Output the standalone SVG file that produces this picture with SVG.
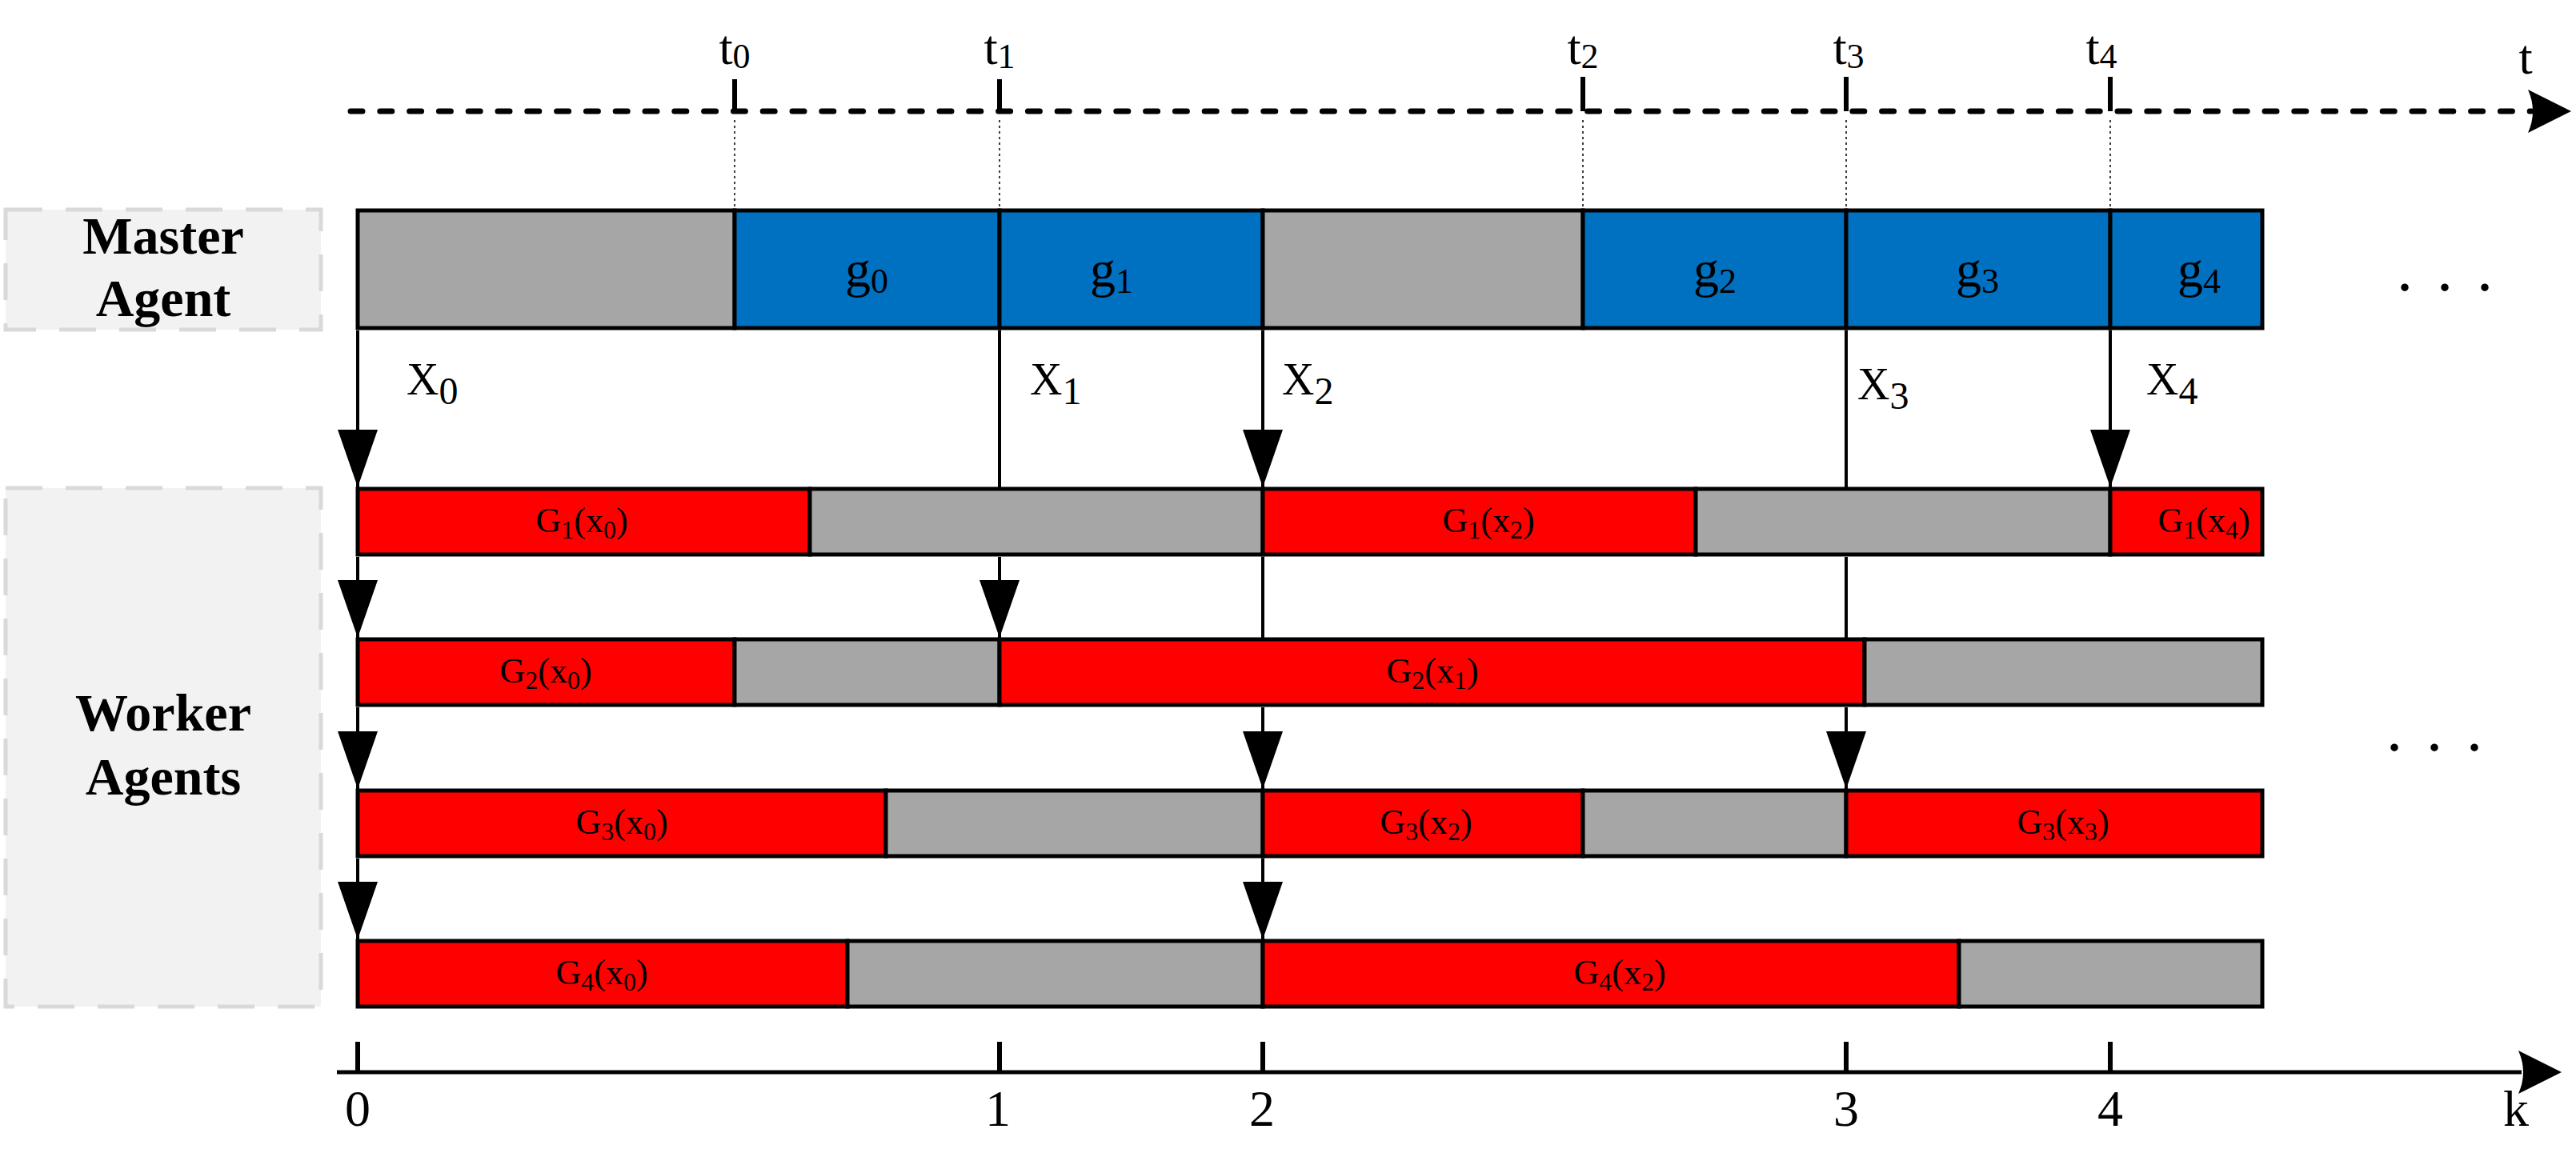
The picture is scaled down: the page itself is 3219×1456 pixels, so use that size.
<svg xmlns="http://www.w3.org/2000/svg" width="3219" height="1456" viewBox="0 0 3219 1456">
<defs>
<style>
.seg{stroke:#000;stroke-width:5}
.gray{fill:#A6A6A6}
.blue{fill:#0070C0}
.red{fill:#FF0000}
.lbox{fill:#F2F2F2;stroke:#D9D9D9;stroke-width:5;stroke-dasharray:46 29}
.head{font-family:"Liberation Serif","Times New Roman",serif;font-weight:bold;font-size:66px;fill:#000;text-anchor:middle}
.gl{font-family:"Liberation Serif","Times New Roman",serif;font-size:44px;fill:#000;text-anchor:middle}
.gs{font-size:32px}
.ml{font-family:"Liberation Serif","Times New Roman",serif;font-size:64px;fill:#000;text-anchor:middle}
.ms{font-size:44px}
.xl{font-family:"Liberation Serif","Times New Roman",serif;font-size:56px;fill:#000}
.xs{font-size:48px}
.ax{font-family:"Liberation Serif","Times New Roman",serif;font-size:64px;fill:#000;text-anchor:middle}
.tl{font-family:"Liberation Serif","Times New Roman",serif;font-size:62px;fill:#000;text-anchor:middle}
.ts{font-size:44px}
.dots{font-family:"Liberation Serif","Times New Roman",serif;font-size:80px;fill:#000;letter-spacing:5px}
.conn{stroke:#000;stroke-width:4;fill:none}
.tick{stroke:#000;stroke-width:6}
.guide{stroke:#000;stroke-width:1.5;stroke-dasharray:3 4}
</style>
<marker id="ah" markerWidth="72" markerHeight="50" refX="72" refY="25" orient="auto" markerUnits="userSpaceOnUse">
<path d="M0,0 L72,25 L0,50 Z" fill="#000"/>
</marker>
<marker id="axh" markerWidth="56" markerHeight="54" refX="4" refY="27" orient="auto" markerUnits="userSpaceOnUse">
<path d="M0,0 L54,27 L0,54 Q12,27 0,0 Z" fill="#000"/>
</marker>
</defs>
<rect width="3219" height="1456" fill="#fff"/>

<g id="time-axis">
<line x1="438" y1="139" x2="3163" y2="139" stroke="#000" stroke-width="7" stroke-dasharray="15 21.8" stroke-linecap="round" marker-end="url(#axh)"/>
<line class="tick" x1="918" y1="99" x2="918" y2="139"/>
<line class="tick" x1="1249" y1="99" x2="1249" y2="139"/>
<line class="tick" x1="1978" y1="96" x2="1978" y2="139"/>
<line class="tick" x1="2307" y1="96" x2="2307" y2="139"/>
<line class="tick" x1="2637" y1="96" x2="2637" y2="139"/>
<line class="guide" x1="918" y1="150" x2="918" y2="260"/>
<line class="guide" x1="1249" y1="150" x2="1249" y2="260"/>
<line class="guide" x1="1978" y1="150" x2="1978" y2="260"/>
<line class="guide" x1="2307" y1="150" x2="2307" y2="260"/>
<line class="guide" x1="2637" y1="150" x2="2637" y2="260"/>
<text class="tl" x="918" y="80">t<tspan class="ts" dy="5">0</tspan></text>
<text class="tl" x="1249" y="80">t<tspan class="ts" dy="5">1</tspan></text>
<text class="tl" x="1978" y="80">t<tspan class="ts" dy="5">2</tspan></text>
<text class="tl" x="2310" y="80">t<tspan class="ts" dy="5">3</tspan></text>
<text class="tl" x="2626" y="80">t<tspan class="ts" dy="5">4</tspan></text>
<text class="tl" x="3156" y="92">t</text>
</g>

<g id="master-agent-label">
<rect class="lbox" x="7" y="262" width="394" height="150"/>
<text class="head" x="204" y="317">Master</text>
<text class="head" x="204" y="395">Agent</text>
</g>

<g id="worker-agents-label">
<rect class="lbox" x="7" y="610" width="394" height="648"/>
<text class="head" x="204" y="913">Worker</text>
<text class="head" x="204" y="993">Agents</text>
</g>

<g id="master-row">
<g id="m-idle-1"><rect class="seg gray" x="447" y="263" width="471" height="147"/></g>
<g id="m-g0"><rect class="seg blue" x="918" y="263" width="331" height="147"/>
<text class="ml" x="1083" y="358">g<tspan class="ms" dy="8">0</tspan></text></g>
<g id="m-g1"><rect class="seg blue" x="1249" y="263" width="329" height="147"/>
<text class="ml" x="1389" y="358">g<tspan class="ms" dy="8">1</tspan></text></g>
<g id="m-idle-2"><rect class="seg gray" x="1578" y="263" width="400" height="147"/></g>
<g id="m-g2"><rect class="seg blue" x="1978" y="263" width="329" height="147"/>
<text class="ml" x="2143" y="358">g<tspan class="ms" dy="8">2</tspan></text></g>
<g id="m-g3"><rect class="seg blue" x="2307" y="263" width="330" height="147"/>
<text class="ml" x="2471" y="358">g<tspan class="ms" dy="8">3</tspan></text></g>
<g id="m-g4"><rect class="seg blue" x="2637" y="263" width="190" height="147"/>
<text class="ml" x="2748" y="358">g<tspan class="ms" dy="8">4</tspan></text></g>
</g>

<g id="worker-row-1">
<g id="w1-g-x0"><rect class="seg red" x="447" y="611" width="565" height="82"/>
<text class="gl" x="727" y="665">G<tspan class="gs" dy="8">1</tspan><tspan dy="-8">(x</tspan><tspan class="gs" dy="8">0</tspan><tspan dy="-8">)</tspan></text></g>
<g id="w1-idle-1"><rect class="seg gray" x="1012" y="611" width="566" height="82"/></g>
<g id="w1-g-x2"><rect class="seg red" x="1578" y="611" width="541" height="82"/>
<text class="gl" x="1860" y="665">G<tspan class="gs" dy="8">1</tspan><tspan dy="-8">(x</tspan><tspan class="gs" dy="8">2</tspan><tspan dy="-8">)</tspan></text></g>
<g id="w1-idle-2"><rect class="seg gray" x="2119" y="611" width="518" height="82"/></g>
<g id="w1-g-x4"><rect class="seg red" x="2637" y="611" width="190" height="82"/>
<text class="gl" x="2754" y="665">G<tspan class="gs" dy="8">1</tspan><tspan dy="-8">(x</tspan><tspan class="gs" dy="8">4</tspan><tspan dy="-8">)</tspan></text></g>
</g>

<g id="worker-row-2">
<g id="w2-g-x0"><rect class="seg red" x="447" y="799" width="471" height="82"/>
<text class="gl" x="682" y="853">G<tspan class="gs" dy="8">2</tspan><tspan dy="-8">(x</tspan><tspan class="gs" dy="8">0</tspan><tspan dy="-8">)</tspan></text></g>
<g id="w2-idle-1"><rect class="seg gray" x="918" y="799" width="331" height="82"/></g>
<g id="w2-g-x1"><rect class="seg red" x="1249" y="799" width="1081" height="82"/>
<text class="gl" x="1790" y="853">G<tspan class="gs" dy="8">2</tspan><tspan dy="-8">(x</tspan><tspan class="gs" dy="8">1</tspan><tspan dy="-8">)</tspan></text></g>
<g id="w2-idle-2"><rect class="seg gray" x="2330" y="799" width="497" height="82"/></g>
</g>

<g id="worker-row-3">
<g id="w3-g-x0"><rect class="seg red" x="447" y="988" width="660" height="82"/>
<text class="gl" x="777" y="1042">G<tspan class="gs" dy="8">3</tspan><tspan dy="-8">(x</tspan><tspan class="gs" dy="8">0</tspan><tspan dy="-8">)</tspan></text></g>
<g id="w3-idle-1"><rect class="seg gray" x="1107" y="988" width="471" height="82"/></g>
<g id="w3-g-x2"><rect class="seg red" x="1578" y="988" width="400" height="82"/>
<text class="gl" x="1782" y="1042">G<tspan class="gs" dy="8">3</tspan><tspan dy="-8">(x</tspan><tspan class="gs" dy="8">2</tspan><tspan dy="-8">)</tspan></text></g>
<g id="w3-idle-2"><rect class="seg gray" x="1978" y="988" width="329" height="82"/></g>
<g id="w3-g-x3"><rect class="seg red" x="2307" y="988" width="520" height="82"/>
<text class="gl" x="2578" y="1042">G<tspan class="gs" dy="8">3</tspan><tspan dy="-8">(x</tspan><tspan class="gs" dy="8">3</tspan><tspan dy="-8">)</tspan></text></g>
</g>

<g id="worker-row-4">
<g id="w4-g-x0"><rect class="seg red" x="447" y="1176" width="612" height="82"/>
<text class="gl" x="752" y="1230">G<tspan class="gs" dy="8">4</tspan><tspan dy="-8">(x</tspan><tspan class="gs" dy="8">0</tspan><tspan dy="-8">)</tspan></text></g>
<g id="w4-idle-1"><rect class="seg gray" x="1059" y="1176" width="519" height="82"/></g>
<g id="w4-g-x2"><rect class="seg red" x="1578" y="1176" width="870" height="82"/>
<text class="gl" x="2024" y="1230">G<tspan class="gs" dy="8">4</tspan><tspan dy="-8">(x</tspan><tspan class="gs" dy="8">2</tspan><tspan dy="-8">)</tspan></text></g>
<g id="w4-idle-2"><rect class="seg gray" x="2448" y="1176" width="379" height="82"/></g>
</g>

<g id="connectors">
<path class="conn" d="M447 413 V609" marker-end="url(#ah)"/>
<path class="conn" d="M447 696 V797" marker-end="url(#ah)"/>
<path class="conn" d="M447 884 V986" marker-end="url(#ah)"/>
<path class="conn" d="M447 1073 V1174" marker-end="url(#ah)"/>
<path class="conn" d="M1249 413 V609"/>
<path class="conn" d="M1249 696 V797" marker-end="url(#ah)"/>
<path class="conn" d="M1578 413 V609" marker-end="url(#ah)"/>
<path class="conn" d="M1578 696 V797"/>
<path class="conn" d="M1578 884 V986" marker-end="url(#ah)"/>
<path class="conn" d="M1578 1073 V1174" marker-end="url(#ah)"/>
<path class="conn" d="M2307 413 V609"/>
<path class="conn" d="M2307 696 V797"/>
<path class="conn" d="M2307 884 V986" marker-end="url(#ah)"/>
<path class="conn" d="M2637 413 V609" marker-end="url(#ah)"/>
<text class="xl" x="508" y="493">X<tspan class="xs" dy="12">0</tspan></text>
<text class="xl" x="1287" y="493">X<tspan class="xs" dy="12">1</tspan></text>
<text class="xl" x="1602" y="493">X<tspan class="xs" dy="12">2</tspan></text>
<text class="xl" x="2321" y="499">X<tspan class="xs" dy="12">3</tspan></text>
<text class="xl" x="2682" y="493">X<tspan class="xs" dy="12">4</tspan></text>
</g>

<g id="k-axis">
<line x1="421" y1="1340" x2="3151" y2="1340" stroke="#000" stroke-width="5" marker-end="url(#axh)"/>
<line class="tick" x1="447" y1="1302" x2="447" y2="1340"/>
<line class="tick" x1="1249" y1="1302" x2="1249" y2="1340"/>
<line class="tick" x1="1578" y1="1302" x2="1578" y2="1340"/>
<line class="tick" x1="2307" y1="1302" x2="2307" y2="1340"/>
<line class="tick" x1="2637" y1="1302" x2="2637" y2="1340"/>
<text class="ax" x="447" y="1407">0</text>
<text class="ax" x="1247" y="1407">1</text>
<text class="ax" x="1577" y="1407">2</text>
<text class="ax" x="2307" y="1407">3</text>
<text class="ax" x="2637" y="1407">4</text>
<text class="ax" x="3144" y="1407">k</text>
</g>

<g id="ellipses">
<text class="dots" x="2995" y="363">. . .</text>
<text class="dots" x="2982" y="938">. . .</text>
</g>
</svg>
